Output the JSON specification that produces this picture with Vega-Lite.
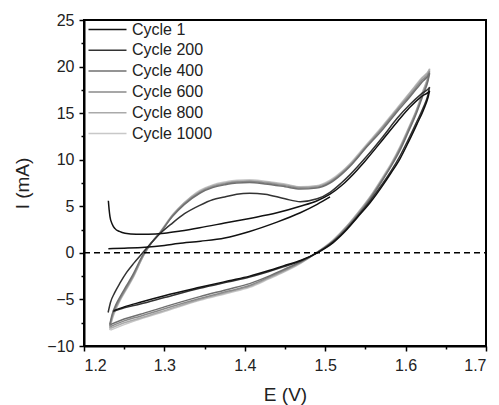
{
"$schema":"https://vega.github.io/schema/vega-lite/v6.json",
"width":402,"height":326,"autosize":"none",
"padding":{"left":84,"top":20,"right":13,"bottom":59},
"background":"white",
"config":{"view":{"stroke":"#000","strokeWidth":2},"font":"Liberation Sans",
"axis":{"grid":false,"domainColor":"#000","domainWidth":2,"tickColor":"#000","tickWidth":1.5,"labelFont":"Liberation Sans","labelColor":"#222","labelFontSize":16,"titleFont":"Liberation Sans","titleFontWeight":"normal","titleColor":"#222","titleFontSize":19}},
"datasets":{"cv":[
{"c":"Cycle 1000","s":"g","t":1,"E":1.232,"I":-8.3},{"c":"Cycle 1000","s":"g","t":2,"E":1.235,"I":-7.2},{"c":"Cycle 1000","s":"g","t":3,"E":1.24,"I":-6.0},{"c":"Cycle 1000","s":"g","t":4,"E":1.245,"I":-5.1},{"c":"Cycle 1000","s":"g","t":5,"E":1.253,"I":-3.9},{"c":"Cycle 1000","s":"g","t":6,"E":1.261,"I":-2.7},{"c":"Cycle 1000","s":"g","t":7,"E":1.274,"I":-0.3},{"c":"Cycle 1000","s":"g","t":8,"E":1.285,"I":1.2},{"c":"Cycle 1000","s":"g","t":9,"E":1.295,"I":2.3},{"c":"Cycle 1000","s":"g","t":10,"E":1.31,"I":4.1},{"c":"Cycle 1000","s":"g","t":11,"E":1.325,"I":5.4},{"c":"Cycle 1000","s":"g","t":12,"E":1.344,"I":6.7},{"c":"Cycle 1000","s":"g","t":13,"E":1.36,"I":7.3},{"c":"Cycle 1000","s":"g","t":14,"E":1.375,"I":7.6},{"c":"Cycle 1000","s":"g","t":15,"E":1.39,"I":7.8},{"c":"Cycle 1000","s":"g","t":16,"E":1.406,"I":7.85},{"c":"Cycle 1000","s":"g","t":17,"E":1.425,"I":7.7},{"c":"Cycle 1000","s":"g","t":18,"E":1.45,"I":7.4},{"c":"Cycle 1000","s":"g","t":19,"E":1.469,"I":7.1},{"c":"Cycle 1000","s":"g","t":20,"E":1.489,"I":7.2},{"c":"Cycle 1000","s":"g","t":21,"E":1.506,"I":7.8},{"c":"Cycle 1000","s":"g","t":22,"E":1.52,"I":8.7},{"c":"Cycle 1000","s":"g","t":23,"E":1.531,"I":9.6},{"c":"Cycle 1000","s":"g","t":24,"E":1.55,"I":11.5},{"c":"Cycle 1000","s":"g","t":25,"E":1.572,"I":13.7},{"c":"Cycle 1000","s":"g","t":26,"E":1.59,"I":15.6},{"c":"Cycle 1000","s":"g","t":27,"E":1.605,"I":17.2},{"c":"Cycle 1000","s":"g","t":28,"E":1.62,"I":18.8},{"c":"Cycle 1000","s":"g","t":29,"E":1.63,"I":19.8},
{"c":"Cycle 1000","s":"g","t":30,"E":1.628,"I":19.0},{"c":"Cycle 1000","s":"g","t":31,"E":1.622,"I":17.5},{"c":"Cycle 1000","s":"g","t":32,"E":1.614,"I":15.5},{"c":"Cycle 1000","s":"g","t":33,"E":1.603,"I":13.3},{"c":"Cycle 1000","s":"g","t":34,"E":1.593,"I":11.4},{"c":"Cycle 1000","s":"g","t":35,"E":1.582,"I":9.6},{"c":"Cycle 1000","s":"g","t":36,"E":1.572,"I":8.2},{"c":"Cycle 1000","s":"g","t":37,"E":1.556,"I":6.05},{"c":"Cycle 1000","s":"g","t":38,"E":1.54,"I":4.25},{"c":"Cycle 1000","s":"g","t":39,"E":1.527,"I":2.9},{"c":"Cycle 1000","s":"g","t":40,"E":1.51,"I":1.4},{"c":"Cycle 1000","s":"g","t":41,"E":1.489,"I":0.0},{"c":"Cycle 1000","s":"g","t":42,"E":1.47,"I":-1.1},{"c":"Cycle 1000","s":"g","t":43,"E":1.448,"I":-2.1},{"c":"Cycle 1000","s":"g","t":44,"E":1.43,"I":-2.8},{"c":"Cycle 1000","s":"g","t":45,"E":1.406,"I":-3.7},{"c":"Cycle 1000","s":"g","t":46,"E":1.38,"I":-4.3},{"c":"Cycle 1000","s":"g","t":47,"E":1.344,"I":-5.1},{"c":"Cycle 1000","s":"g","t":48,"E":1.30,"I":-6.3},{"c":"Cycle 1000","s":"g","t":49,"E":1.27,"I":-7.1},{"c":"Cycle 1000","s":"g","t":50,"E":1.25,"I":-7.7},{"c":"Cycle 1000","s":"g","t":51,"E":1.233,"I":-8.3},

{"c":"Cycle 800","s":"g","t":1,"E":1.232,"I":-8.1},{"c":"Cycle 800","s":"g","t":2,"E":1.235,"I":-7.0},{"c":"Cycle 800","s":"g","t":3,"E":1.24,"I":-5.9},{"c":"Cycle 800","s":"g","t":4,"E":1.245,"I":-5.0},{"c":"Cycle 800","s":"g","t":5,"E":1.253,"I":-3.8},{"c":"Cycle 800","s":"g","t":6,"E":1.261,"I":-2.6},{"c":"Cycle 800","s":"g","t":7,"E":1.274,"I":-0.3},{"c":"Cycle 800","s":"g","t":8,"E":1.285,"I":1.2},{"c":"Cycle 800","s":"g","t":9,"E":1.295,"I":2.2},{"c":"Cycle 800","s":"g","t":10,"E":1.31,"I":4.0},{"c":"Cycle 800","s":"g","t":11,"E":1.325,"I":5.4},{"c":"Cycle 800","s":"g","t":12,"E":1.344,"I":6.6},{"c":"Cycle 800","s":"g","t":13,"E":1.36,"I":7.2},{"c":"Cycle 800","s":"g","t":14,"E":1.375,"I":7.5},{"c":"Cycle 800","s":"g","t":15,"E":1.39,"I":7.7},{"c":"Cycle 800","s":"g","t":16,"E":1.406,"I":7.75},{"c":"Cycle 800","s":"g","t":17,"E":1.425,"I":7.6},{"c":"Cycle 800","s":"g","t":18,"E":1.45,"I":7.3},{"c":"Cycle 800","s":"g","t":19,"E":1.469,"I":7.05},{"c":"Cycle 800","s":"g","t":20,"E":1.489,"I":7.15},{"c":"Cycle 800","s":"g","t":21,"E":1.506,"I":7.7},{"c":"Cycle 800","s":"g","t":22,"E":1.52,"I":8.6},{"c":"Cycle 800","s":"g","t":23,"E":1.531,"I":9.5},{"c":"Cycle 800","s":"g","t":24,"E":1.55,"I":11.4},{"c":"Cycle 800","s":"g","t":25,"E":1.572,"I":13.6},{"c":"Cycle 800","s":"g","t":26,"E":1.59,"I":15.5},{"c":"Cycle 800","s":"g","t":27,"E":1.605,"I":17.1},{"c":"Cycle 800","s":"g","t":28,"E":1.62,"I":18.7},{"c":"Cycle 800","s":"g","t":29,"E":1.63,"I":19.7},
{"c":"Cycle 800","s":"g","t":30,"E":1.628,"I":18.9},{"c":"Cycle 800","s":"g","t":31,"E":1.622,"I":17.4},{"c":"Cycle 800","s":"g","t":32,"E":1.614,"I":15.4},{"c":"Cycle 800","s":"g","t":33,"E":1.603,"I":13.2},{"c":"Cycle 800","s":"g","t":34,"E":1.593,"I":11.3},{"c":"Cycle 800","s":"g","t":35,"E":1.582,"I":9.5},{"c":"Cycle 800","s":"g","t":36,"E":1.572,"I":8.1},{"c":"Cycle 800","s":"g","t":37,"E":1.556,"I":6.0},{"c":"Cycle 800","s":"g","t":38,"E":1.54,"I":4.2},{"c":"Cycle 800","s":"g","t":39,"E":1.527,"I":2.85},{"c":"Cycle 800","s":"g","t":40,"E":1.51,"I":1.35},{"c":"Cycle 800","s":"g","t":41,"E":1.489,"I":0.0},{"c":"Cycle 800","s":"g","t":42,"E":1.47,"I":-1.05},{"c":"Cycle 800","s":"g","t":43,"E":1.448,"I":-2.0},{"c":"Cycle 800","s":"g","t":44,"E":1.43,"I":-2.7},{"c":"Cycle 800","s":"g","t":45,"E":1.406,"I":-3.6},{"c":"Cycle 800","s":"g","t":46,"E":1.38,"I":-4.2},{"c":"Cycle 800","s":"g","t":47,"E":1.344,"I":-5.0},{"c":"Cycle 800","s":"g","t":48,"E":1.30,"I":-6.2},{"c":"Cycle 800","s":"g","t":49,"E":1.27,"I":-7.0},{"c":"Cycle 800","s":"g","t":50,"E":1.25,"I":-7.5},{"c":"Cycle 800","s":"g","t":51,"E":1.233,"I":-8.1},

{"c":"Cycle 600","s":"g","t":1,"E":1.232,"I":-7.9},{"c":"Cycle 600","s":"g","t":2,"E":1.235,"I":-6.8},{"c":"Cycle 600","s":"g","t":3,"E":1.24,"I":-5.7},{"c":"Cycle 600","s":"g","t":4,"E":1.245,"I":-4.9},{"c":"Cycle 600","s":"g","t":5,"E":1.253,"I":-3.7},{"c":"Cycle 600","s":"g","t":6,"E":1.261,"I":-2.5},{"c":"Cycle 600","s":"g","t":7,"E":1.274,"I":-0.2},{"c":"Cycle 600","s":"g","t":8,"E":1.285,"I":1.2},{"c":"Cycle 600","s":"g","t":9,"E":1.295,"I":2.2},{"c":"Cycle 600","s":"g","t":10,"E":1.31,"I":4.0},{"c":"Cycle 600","s":"g","t":11,"E":1.325,"I":5.3},{"c":"Cycle 600","s":"g","t":12,"E":1.344,"I":6.5},{"c":"Cycle 600","s":"g","t":13,"E":1.36,"I":7.1},{"c":"Cycle 600","s":"g","t":14,"E":1.375,"I":7.4},{"c":"Cycle 600","s":"g","t":15,"E":1.39,"I":7.6},{"c":"Cycle 600","s":"g","t":16,"E":1.406,"I":7.65},{"c":"Cycle 600","s":"g","t":17,"E":1.425,"I":7.5},{"c":"Cycle 600","s":"g","t":18,"E":1.45,"I":7.2},{"c":"Cycle 600","s":"g","t":19,"E":1.469,"I":6.95},{"c":"Cycle 600","s":"g","t":20,"E":1.489,"I":7.05},{"c":"Cycle 600","s":"g","t":21,"E":1.506,"I":7.6},{"c":"Cycle 600","s":"g","t":22,"E":1.52,"I":8.5},{"c":"Cycle 600","s":"g","t":23,"E":1.531,"I":9.4},{"c":"Cycle 600","s":"g","t":24,"E":1.55,"I":11.3},{"c":"Cycle 600","s":"g","t":25,"E":1.572,"I":13.5},{"c":"Cycle 600","s":"g","t":26,"E":1.59,"I":15.4},{"c":"Cycle 600","s":"g","t":27,"E":1.605,"I":16.9},{"c":"Cycle 600","s":"g","t":28,"E":1.62,"I":18.5},{"c":"Cycle 600","s":"g","t":29,"E":1.63,"I":19.5},
{"c":"Cycle 600","s":"g","t":30,"E":1.628,"I":18.7},{"c":"Cycle 600","s":"g","t":31,"E":1.622,"I":17.2},{"c":"Cycle 600","s":"g","t":32,"E":1.614,"I":15.3},{"c":"Cycle 600","s":"g","t":33,"E":1.603,"I":13.1},{"c":"Cycle 600","s":"g","t":34,"E":1.593,"I":11.2},{"c":"Cycle 600","s":"g","t":35,"E":1.582,"I":9.4},{"c":"Cycle 600","s":"g","t":36,"E":1.572,"I":8.0},{"c":"Cycle 600","s":"g","t":37,"E":1.556,"I":5.9},{"c":"Cycle 600","s":"g","t":38,"E":1.54,"I":4.1},{"c":"Cycle 600","s":"g","t":39,"E":1.527,"I":2.8},{"c":"Cycle 600","s":"g","t":40,"E":1.51,"I":1.3},{"c":"Cycle 600","s":"g","t":41,"E":1.489,"I":0.0},{"c":"Cycle 600","s":"g","t":42,"E":1.47,"I":-1.0},{"c":"Cycle 600","s":"g","t":43,"E":1.448,"I":-1.9},{"c":"Cycle 600","s":"g","t":44,"E":1.43,"I":-2.6},{"c":"Cycle 600","s":"g","t":45,"E":1.406,"I":-3.5},{"c":"Cycle 600","s":"g","t":46,"E":1.38,"I":-4.1},{"c":"Cycle 600","s":"g","t":47,"E":1.344,"I":-4.9},{"c":"Cycle 600","s":"g","t":48,"E":1.30,"I":-6.0},{"c":"Cycle 600","s":"g","t":49,"E":1.27,"I":-6.8},{"c":"Cycle 600","s":"g","t":50,"E":1.25,"I":-7.3},{"c":"Cycle 600","s":"g","t":51,"E":1.233,"I":-7.9},

{"c":"Cycle 400","s":"g","t":1,"E":1.232,"I":-7.7},{"c":"Cycle 400","s":"g","t":2,"E":1.235,"I":-6.6},{"c":"Cycle 400","s":"g","t":3,"E":1.24,"I":-5.5},{"c":"Cycle 400","s":"g","t":4,"E":1.245,"I":-4.7},{"c":"Cycle 400","s":"g","t":5,"E":1.253,"I":-3.5},{"c":"Cycle 400","s":"g","t":6,"E":1.261,"I":-2.3},{"c":"Cycle 400","s":"g","t":7,"E":1.274,"I":-0.1},{"c":"Cycle 400","s":"g","t":8,"E":1.285,"I":1.2},{"c":"Cycle 400","s":"g","t":9,"E":1.295,"I":2.2},{"c":"Cycle 400","s":"g","t":10,"E":1.31,"I":3.9},{"c":"Cycle 400","s":"g","t":11,"E":1.325,"I":5.2},{"c":"Cycle 400","s":"g","t":12,"E":1.344,"I":6.4},{"c":"Cycle 400","s":"g","t":13,"E":1.36,"I":7.0},{"c":"Cycle 400","s":"g","t":14,"E":1.375,"I":7.3},{"c":"Cycle 400","s":"g","t":15,"E":1.39,"I":7.5},{"c":"Cycle 400","s":"g","t":16,"E":1.406,"I":7.55},{"c":"Cycle 400","s":"g","t":17,"E":1.425,"I":7.4},{"c":"Cycle 400","s":"g","t":18,"E":1.45,"I":7.1},{"c":"Cycle 400","s":"g","t":19,"E":1.469,"I":6.85},{"c":"Cycle 400","s":"g","t":20,"E":1.489,"I":6.95},{"c":"Cycle 400","s":"g","t":21,"E":1.506,"I":7.5},{"c":"Cycle 400","s":"g","t":22,"E":1.52,"I":8.4},{"c":"Cycle 400","s":"g","t":23,"E":1.531,"I":9.3},{"c":"Cycle 400","s":"g","t":24,"E":1.55,"I":11.2},{"c":"Cycle 400","s":"g","t":25,"E":1.572,"I":13.3},{"c":"Cycle 400","s":"g","t":26,"E":1.59,"I":15.2},{"c":"Cycle 400","s":"g","t":27,"E":1.605,"I":16.7},{"c":"Cycle 400","s":"g","t":28,"E":1.62,"I":18.3},{"c":"Cycle 400","s":"g","t":29,"E":1.63,"I":19.3},
{"c":"Cycle 400","s":"g","t":30,"E":1.628,"I":18.5},{"c":"Cycle 400","s":"g","t":31,"E":1.622,"I":17.0},{"c":"Cycle 400","s":"g","t":32,"E":1.614,"I":15.1},{"c":"Cycle 400","s":"g","t":33,"E":1.603,"I":12.9},{"c":"Cycle 400","s":"g","t":34,"E":1.593,"I":11.0},{"c":"Cycle 400","s":"g","t":35,"E":1.582,"I":9.3},{"c":"Cycle 400","s":"g","t":36,"E":1.572,"I":7.9},{"c":"Cycle 400","s":"g","t":37,"E":1.556,"I":5.8},{"c":"Cycle 400","s":"g","t":38,"E":1.54,"I":4.0},{"c":"Cycle 400","s":"g","t":39,"E":1.527,"I":2.7},{"c":"Cycle 400","s":"g","t":40,"E":1.51,"I":1.25},{"c":"Cycle 400","s":"g","t":41,"E":1.489,"I":0.0},{"c":"Cycle 400","s":"g","t":42,"E":1.47,"I":-0.95},{"c":"Cycle 400","s":"g","t":43,"E":1.448,"I":-1.8},{"c":"Cycle 400","s":"g","t":44,"E":1.43,"I":-2.5},{"c":"Cycle 400","s":"g","t":45,"E":1.406,"I":-3.3},{"c":"Cycle 400","s":"g","t":46,"E":1.38,"I":-3.9},{"c":"Cycle 400","s":"g","t":47,"E":1.344,"I":-4.7},{"c":"Cycle 400","s":"g","t":48,"E":1.30,"I":-5.8},{"c":"Cycle 400","s":"g","t":49,"E":1.27,"I":-6.6},{"c":"Cycle 400","s":"g","t":50,"E":1.25,"I":-7.1},{"c":"Cycle 400","s":"g","t":51,"E":1.233,"I":-7.7},

{"c":"Cycle 200","s":"h","t":1,"E":1.230,"I":-6.4},{"c":"Cycle 200","s":"h","t":2,"E":1.233,"I":-5.3},{"c":"Cycle 200","s":"h","t":3,"E":1.238,"I":-4.3},{"c":"Cycle 200","s":"h","t":4,"E":1.245,"I":-3.2},{"c":"Cycle 200","s":"h","t":5,"E":1.253,"I":-2.1},{"c":"Cycle 200","s":"h","t":6,"E":1.262,"I":-1.1},{"c":"Cycle 200","s":"h","t":7,"E":1.273,"I":0.0},{"c":"Cycle 200","s":"h","t":8,"E":1.285,"I":1.2},{"c":"Cycle 200","s":"h","t":9,"E":1.295,"I":2.1},{"c":"Cycle 200","s":"h","t":10,"E":1.31,"I":3.2},{"c":"Cycle 200","s":"h","t":11,"E":1.325,"I":4.2},{"c":"Cycle 200","s":"h","t":12,"E":1.344,"I":5.1},{"c":"Cycle 200","s":"h","t":13,"E":1.36,"I":5.7},{"c":"Cycle 200","s":"h","t":14,"E":1.375,"I":6.0},{"c":"Cycle 200","s":"h","t":15,"E":1.39,"I":6.3},{"c":"Cycle 200","s":"h","t":16,"E":1.406,"I":6.4},{"c":"Cycle 200","s":"h","t":17,"E":1.425,"I":6.3},{"c":"Cycle 200","s":"h","t":18,"E":1.45,"I":5.8},{"c":"Cycle 200","s":"h","t":19,"E":1.469,"I":5.5},{"c":"Cycle 200","s":"h","t":20,"E":1.49,"I":5.8},{"c":"Cycle 200","s":"h","t":21,"E":1.506,"I":6.5},{"c":"Cycle 200","s":"h","t":22,"E":1.52,"I":7.5},{"c":"Cycle 200","s":"h","t":23,"E":1.531,"I":8.4},{"c":"Cycle 200","s":"h","t":24,"E":1.55,"I":10.2},{"c":"Cycle 200","s":"h","t":25,"E":1.572,"I":12.5},{"c":"Cycle 200","s":"h","t":26,"E":1.59,"I":14.5},{"c":"Cycle 200","s":"h","t":27,"E":1.605,"I":15.9},{"c":"Cycle 200","s":"h","t":28,"E":1.62,"I":17.1},{"c":"Cycle 200","s":"h","t":29,"E":1.63,"I":17.8},
{"c":"Cycle 200","s":"h","t":30,"E":1.628,"I":17.0},{"c":"Cycle 200","s":"h","t":31,"E":1.622,"I":15.6},{"c":"Cycle 200","s":"h","t":32,"E":1.614,"I":14.1},{"c":"Cycle 200","s":"h","t":33,"E":1.603,"I":12.1},{"c":"Cycle 200","s":"h","t":34,"E":1.593,"I":10.4},{"c":"Cycle 200","s":"h","t":35,"E":1.582,"I":8.8},{"c":"Cycle 200","s":"h","t":36,"E":1.572,"I":7.5},{"c":"Cycle 200","s":"h","t":37,"E":1.556,"I":5.6},{"c":"Cycle 200","s":"h","t":38,"E":1.54,"I":3.9},{"c":"Cycle 200","s":"h","t":39,"E":1.527,"I":2.6},{"c":"Cycle 200","s":"h","t":40,"E":1.51,"I":1.2},{"c":"Cycle 200","s":"h","t":41,"E":1.49,"I":0.0},{"c":"Cycle 200","s":"h","t":42,"E":1.47,"I":-0.85},{"c":"Cycle 200","s":"h","t":43,"E":1.448,"I":-1.5},{"c":"Cycle 200","s":"h","t":44,"E":1.43,"I":-2.0},{"c":"Cycle 200","s":"h","t":45,"E":1.406,"I":-2.6},{"c":"Cycle 200","s":"h","t":46,"E":1.38,"I":-3.1},{"c":"Cycle 200","s":"h","t":47,"E":1.344,"I":-3.8},{"c":"Cycle 200","s":"h","t":48,"E":1.30,"I":-4.8},{"c":"Cycle 200","s":"h","t":49,"E":1.27,"I":-5.5},{"c":"Cycle 200","s":"h","t":50,"E":1.25,"I":-5.9},{"c":"Cycle 200","s":"h","t":51,"E":1.236,"I":-6.3},

{"c":"Cycle 1","s":"a","t":1,"E":1.2303,"I":5.6},{"c":"Cycle 1","s":"a","t":2,"E":1.2313,"I":4.6},{"c":"Cycle 1","s":"a","t":3,"E":1.2323,"I":3.9},{"c":"Cycle 1","s":"a","t":4,"E":1.235,"I":3.1},{"c":"Cycle 1","s":"a","t":5,"E":1.2386,"I":2.6},{"c":"Cycle 1","s":"a","t":6,"E":1.244,"I":2.3},{"c":"Cycle 1","s":"a","t":7,"E":1.251,"I":2.1},{"c":"Cycle 1","s":"a","t":8,"E":1.265,"I":2.0},{"c":"Cycle 1","s":"a","t":9,"E":1.28,"I":2.0},{"c":"Cycle 1","s":"a","t":10,"E":1.30,"I":2.1},{"c":"Cycle 1","s":"a","t":11,"E":1.32,"I":2.35},{"c":"Cycle 1","s":"a","t":12,"E":1.344,"I":2.7},{"c":"Cycle 1","s":"a","t":13,"E":1.375,"I":3.2},{"c":"Cycle 1","s":"a","t":14,"E":1.406,"I":3.7},{"c":"Cycle 1","s":"a","t":15,"E":1.44,"I":4.3},{"c":"Cycle 1","s":"a","t":16,"E":1.469,"I":5.0},{"c":"Cycle 1","s":"a","t":17,"E":1.49,"I":5.6},{"c":"Cycle 1","s":"a","t":18,"E":1.506,"I":6.3},{"c":"Cycle 1","s":"a","t":19,"E":1.52,"I":7.2},{"c":"Cycle 1","s":"a","t":20,"E":1.531,"I":8.1},{"c":"Cycle 1","s":"a","t":21,"E":1.55,"I":9.9},{"c":"Cycle 1","s":"a","t":22,"E":1.572,"I":12.2},{"c":"Cycle 1","s":"a","t":23,"E":1.59,"I":14.1},{"c":"Cycle 1","s":"a","t":24,"E":1.605,"I":15.6},{"c":"Cycle 1","s":"a","t":25,"E":1.62,"I":16.8},{"c":"Cycle 1","s":"a","t":26,"E":1.63,"I":17.4},
{"c":"Cycle 1","s":"a","t":27,"E":1.628,"I":16.7},{"c":"Cycle 1","s":"a","t":28,"E":1.622,"I":15.3},{"c":"Cycle 1","s":"a","t":29,"E":1.614,"I":13.8},{"c":"Cycle 1","s":"a","t":30,"E":1.603,"I":11.8},{"c":"Cycle 1","s":"a","t":31,"E":1.593,"I":10.1},{"c":"Cycle 1","s":"a","t":32,"E":1.582,"I":8.6},{"c":"Cycle 1","s":"a","t":33,"E":1.572,"I":7.3},{"c":"Cycle 1","s":"a","t":34,"E":1.556,"I":5.4},{"c":"Cycle 1","s":"a","t":35,"E":1.54,"I":3.8},{"c":"Cycle 1","s":"a","t":36,"E":1.527,"I":2.5},{"c":"Cycle 1","s":"a","t":37,"E":1.51,"I":1.1},{"c":"Cycle 1","s":"a","t":38,"E":1.49,"I":0.0},{"c":"Cycle 1","s":"a","t":39,"E":1.47,"I":-0.8},{"c":"Cycle 1","s":"a","t":40,"E":1.448,"I":-1.4},{"c":"Cycle 1","s":"a","t":41,"E":1.43,"I":-1.9},{"c":"Cycle 1","s":"a","t":42,"E":1.406,"I":-2.5},{"c":"Cycle 1","s":"a","t":43,"E":1.38,"I":-3.0},{"c":"Cycle 1","s":"a","t":44,"E":1.344,"I":-3.7},{"c":"Cycle 1","s":"a","t":45,"E":1.30,"I":-4.6},{"c":"Cycle 1","s":"a","t":46,"E":1.27,"I":-5.3},{"c":"Cycle 1","s":"a","t":47,"E":1.25,"I":-5.8},{"c":"Cycle 1","s":"a","t":48,"E":1.237,"I":-6.2},

{"c":"Cycle 1","s":"b","t":1,"E":1.2303,"I":0.45},{"c":"Cycle 1","s":"b","t":2,"E":1.25,"I":0.5},{"c":"Cycle 1","s":"b","t":3,"E":1.276,"I":0.6},{"c":"Cycle 1","s":"b","t":4,"E":1.30,"I":0.8},{"c":"Cycle 1","s":"b","t":5,"E":1.317,"I":1.0},{"c":"Cycle 1","s":"b","t":6,"E":1.345,"I":1.25},{"c":"Cycle 1","s":"b","t":7,"E":1.375,"I":1.6},{"c":"Cycle 1","s":"b","t":8,"E":1.406,"I":2.3},{"c":"Cycle 1","s":"b","t":9,"E":1.44,"I":3.3},{"c":"Cycle 1","s":"b","t":10,"E":1.469,"I":4.3},{"c":"Cycle 1","s":"b","t":11,"E":1.49,"I":5.2},{"c":"Cycle 1","s":"b","t":12,"E":1.506,"I":6.0}
],
"zero":[{"E0":1.2,"E1":1.7,"I0":0}]},
"layer":[
{"data":{"name":"cv"},
 "mark":{"type":"line","strokeWidth":1.5,"interpolate":"monotone"},
 "encoding":{
  "x":{"field":"E","type":"quantitative","scale":{"domain":[1.2,1.7],"nice":false,"zero":false},
   "axis":{"orient":"bottom","values":[1.2,1.3,1.4,1.5,1.6,1.7],"format":".1f","tickSize":5,"labelPadding":6,"title":"E (V)","titlePadding":12}},
  "y":{"field":"I","type":"quantitative","scale":{"domain":[-10,25],"nice":false,"zero":false},
   "axis":{"orient":"left","values":[-10,-5,0,5,10,15,20,25],"format":"d","tickSize":5,"labelPadding":5,"title":"I (mA)","titlePadding":14}},
  "color":{"field":"c","type":"nominal","sort":["Cycle 1","Cycle 200","Cycle 400","Cycle 600","Cycle 800","Cycle 1000"],
   "scale":{"domain":["Cycle 1","Cycle 200","Cycle 400","Cycle 600","Cycle 800","Cycle 1000"],"range":["#111111","#333333","#707070","#8a8a8a","#aaaaaa","#c8c8c8"]},
   "legend":{"title":null,"orient":"none","legendX":15,"legendY":1,"symbolType":"M-2.5,0H2.5","symbolSize":231,"symbolStrokeWidth":1.5,"labelFontSize":16,"labelColor":"#222","labelOffset":16,"rowPadding":3.8,"padding":0}},
  "detail":{"field":"s"},
  "order":{"field":"t","type":"quantitative"}
 }},
{"data":{"name":"zero"},
 "mark":{"type":"rule","strokeDash":[6,4],"strokeWidth":1.5,"color":"#000"},
 "encoding":{
  "x":{"field":"E0","type":"quantitative","axis":{"orient":"bottom","values":[1.25,1.35,1.45,1.55,1.65],"labels":false,"domain":false,"tickSize":3,"title":null}},
  "x2":{"field":"E1"},
  "y":{"field":"I0","type":"quantitative","axis":{"orient":"left","values":[-7.5,-2.5,2.5,7.5,12.5,17.5,22.5],"labels":false,"domain":false,"tickSize":3,"title":null}}
 }}
],
"resolve":{"axis":{"x":"independent","y":"independent"}}
}
